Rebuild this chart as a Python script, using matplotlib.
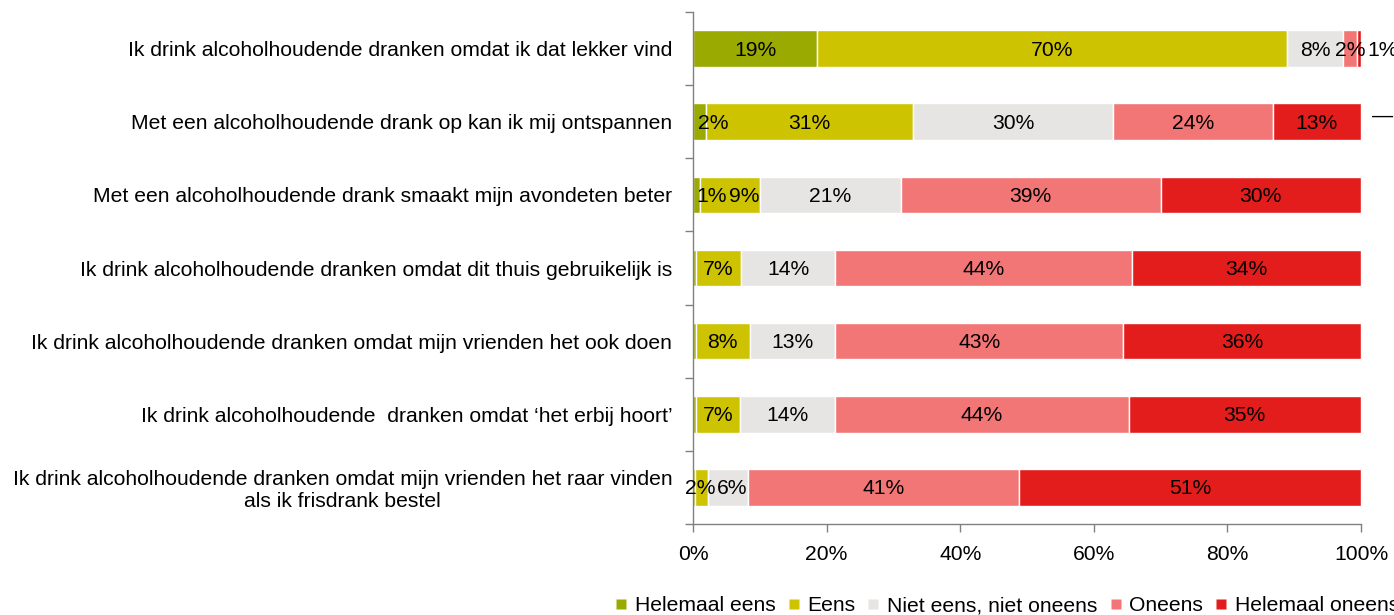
import matplotlib
matplotlib.use("Agg")
import matplotlib.pyplot as plt
from matplotlib.lines import Line2D
import numpy as np

plt.rcParams['font.family'] = ['Liberation Sans', 'DejaVu Sans']

categories = [
    "Ik drink alcoholhoudende dranken omdat ik dat lekker vind",
    "Met een alcoholhoudende drank op kan ik mij ontspannen",
    "Met een alcoholhoudende drank smaakt mijn avondeten beter",
    "Ik drink alcoholhoudende dranken omdat dit thuis gebruikelijk is",
    "Ik drink alcoholhoudende dranken omdat mijn vrienden het ook doen",
    "Ik drink alcoholhoudende  dranken omdat \u2018het erbij hoort\u2019",
    "Ik drink alcoholhoudende dranken omdat mijn vrienden het raar vinden\nals ik frisdrank bestel",
]
series_names = ["Helemaal eens", "Eens", "Niet eens, niet oneens", "Oneens", "Helemaal oneens"]
helemaal_eens = [18.6, 1.9, 1.0, 0.4, 0.4, 0.4, 0.3]
eens = [70.3, 31.0, 9.0, 6.8, 8.1, 6.6, 1.9]
neutraal = [8.4, 30.0, 21.1, 14.1, 12.8, 14.3, 6.0]
oneens = [2.1, 23.9, 38.9, 44.4, 43.1, 43.9, 40.6]
helemaal_oneens = [0.6, 13.2, 30.0, 34.3, 35.6, 34.8, 51.2]
colors = ["#9BAA00", "#CEC300", "#E6E5E3", "#F27676", "#E31C1C"]
x_ticks = [0, 20, 40, 60, 80, 100]

series = [helemaal_eens, eens, neutraal, oneens, helemaal_oneens]

# manual placement of a few small-segment labels (row, series) -> x
label_x_override = {(0, 4): 103.3, (1, 0): 3.1, (2, 0): 2.8, (2, 1): 7.6,
                    (6, 1): 1.1, (6, 2): 5.9}

W, H = 1394, 615
fig = plt.figure(figsize=(W / 100, H / 100), dpi=100)
ax = fig.add_axes([693 / W, 1 - 524 / H, 668 / W, 512 / H])

FS = 15.2
y = np.arange(len(categories))
left = np.zeros(len(categories))
for si, (vals, col) in enumerate(zip(series, colors)):
    vals = np.array(vals)
    ax.barh(y, vals, left=left, height=0.5, color=col, edgecolor='white',
            linewidth=1.0, label=series_names[si])
    for ri, v in enumerate(vals):
        if v < 0.5:
            continue
        cx = label_x_override.get((ri, si), left[ri] + v / 2)
        ax.text(cx, y[ri] + 0.02, f"{int(round(v))}%", ha='center', va='center',
                fontsize=FS, color='black', clip_on=False)
    left += vals

# stray dash next to second bar
ax.text(103.2, 0.93, "\u2014", ha='center', va='center', fontsize=FS, color='black', clip_on=False)

ax.set_xlim(0, 100)
ax.set_ylim(len(categories) - 0.5, -0.5)
ax.set_xticks(x_ticks)
ax.set_xticklabels([f"{t}%" for t in x_ticks], fontsize=FS)
ax.set_yticks(y)
ax.set_yticklabels(categories, fontsize=FS, multialignment='center')
ax.set_yticks(np.arange(-0.5, len(categories) + 0.5, 1), minor=True)
ax.tick_params(axis='y', which='major', length=0, pad=15)
ax.tick_params(axis='y', which='minor', length=6, direction='out', color='#808080', width=1)
ax.tick_params(axis='x', which='major', length=6, direction='out', color='#808080', width=1, pad=9)

for s in ['top', 'right']:
    ax.spines[s].set_visible(False)
for s in ['left', 'bottom']:
    ax.spines[s].set_color('#808080')
    ax.spines[s].set_linewidth(1)

handles = [Line2D([0], [0], marker='s', linestyle='none', markersize=7,
                  markerfacecolor=c, markeredgecolor='none') for c in colors]
fig.legend(handles, series_names, loc='lower center', ncol=5,
           bbox_to_anchor=(1007 / W, -0.014), frameon=False, fontsize=FS,
           handlelength=0.6, handletextpad=0.35, columnspacing=0.55, borderaxespad=0)

fig.savefig("out.png", dpi=100)
